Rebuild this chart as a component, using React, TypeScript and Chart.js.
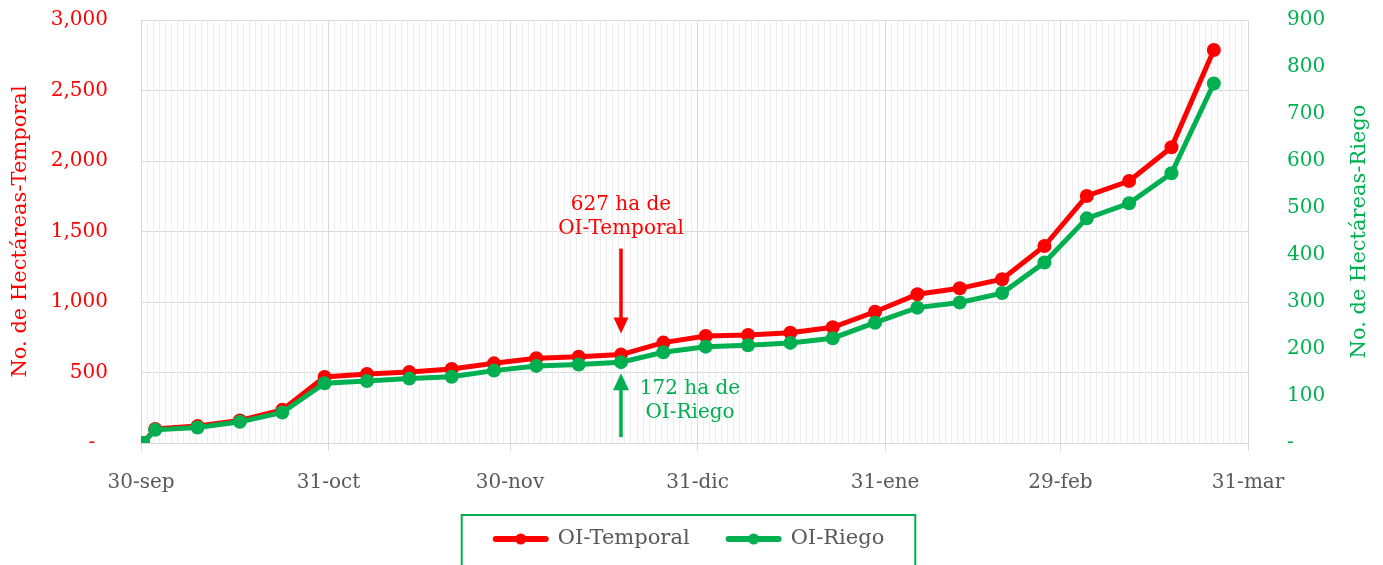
import React, { useEffect, useRef } from 'react';
import { Chart, registerables } from 'chart.js';

Chart.register(...registerables);

// ---- Data ----
const fechas: string[] = [
  '2023-09-30', '2023-10-02', '2023-10-09', '2023-10-16', '2023-10-23', '2023-10-30',
  '2023-11-06', '2023-11-13', '2023-11-20', '2023-11-27', '2023-12-04', '2023-12-11',
  '2023-12-18', '2023-12-25', '2024-01-01', '2024-01-08', '2024-01-15', '2024-01-22',
  '2024-01-29', '2024-02-05', '2024-02-12', '2024-02-19', '2024-02-26', '2024-03-04',
  '2024-03-11', '2024-03-18', '2024-03-25',
];
const temporal: number[] = [
  0, 100, 120, 160, 235, 468, 489, 503, 525, 565, 601, 612,
  627, 712, 759, 766, 782, 821, 931, 1055, 1097, 1161, 1397, 1752,
  1858, 2097, 2787,
];
const riego: number[] = [
  0, 28, 33, 45, 65, 127, 132, 137, 141, 154, 164, 167,
  172, 193, 205, 208, 213, 223, 256, 288, 299, 319, 384, 478,
  510, 574, 765,
];
const etiquetasMes: string[] = ['30-sep', '31-oct', '30-nov', '31-dic', '31-ene', '29-feb', '31-mar'];
const fechasMes: string[] = ['2023-09-30', '2023-10-31', '2023-11-30', '2023-12-31', '2024-01-31', '2024-02-29', '2024-03-31'];
const nombresSeries: string[] = ['OI-Temporal', 'OI-Riego'];
const tituloIzq = 'No. de Hectáreas-Temporal';
const tituloDer = 'No. de Hectáreas-Riego';
const idxAnotacion = 12;

// ---- Styles ----
const ROJO = '#FF0000';
const VERDE = '#00B050';
const GRIS = '#595959';
const FONT = '"DejaVu Serif", serif';
const DIA_CENTRO = 0.35;

const ORIGEN = Date.UTC(2023, 8, 30);
function dia(f: string): number {
  const [y, m, d] = f.split('-').map(Number);
  return Math.round((Date.UTC(y, m - 1, d) - ORIGEN) / 86400000);
}
const diasMes = fechasMes.map(dia);
const diaMax = diasMes[diasMes.length - 1];

const extras = {
  id: 'extras',
  afterDraw(chart: any) {
    const ctx = chart.ctx as CanvasRenderingContext2D;
    const { x: xs, y: ys, y1: y1s } = chart.scales;
    const area = chart.chartArea;

    // Right axis title (reads bottom to top)
    ctx.save();
    ctx.fillStyle = VERDE;
    ctx.font = `21px ${FONT}`;
    ctx.textAlign = 'center';
    ctx.textBaseline = 'middle';
    ctx.translate(y1s.right - 23, (area.top + area.bottom) / 2);
    ctx.rotate(-Math.PI / 2);
    ctx.fillText(tituloDer, 0, 0);
    ctx.restore();

    // Annotations
    const px = xs.getPixelForValue(dia(fechas[idxAnotacion]) + DIA_CENTRO);
    const pyT = ys.getPixelForValue(temporal[idxAnotacion]);
    const pyR = y1s.getPixelForValue(riego[idxAnotacion]);
    ctx.save();
    ctx.font = `20px ${FONT}`;
    ctx.textAlign = 'center';
    ctx.textBaseline = 'middle';
    // red
    ctx.strokeStyle = ROJO;
    ctx.fillStyle = ROJO;
    ctx.lineWidth = 3.5;
    ctx.beginPath();
    ctx.moveTo(px, pyT - 106);
    ctx.lineTo(px, pyT - 34);
    ctx.stroke();
    ctx.beginPath();
    ctx.moveTo(px - 7.5, pyT - 37);
    ctx.lineTo(px + 7.5, pyT - 37);
    ctx.lineTo(px, pyT - 21);
    ctx.closePath();
    ctx.fill();
    ctx.fillText(`${temporal[idxAnotacion]} ha de`, px, pyT - 150);
    ctx.fillText(nombresSeries[0], px, pyT - 126);
    // green
    ctx.strokeStyle = VERDE;
    ctx.fillStyle = VERDE;
    ctx.beginPath();
    ctx.moveTo(px, pyR + 26);
    ctx.lineTo(px, pyR + 75);
    ctx.stroke();
    ctx.beginPath();
    ctx.moveTo(px - 8, pyR + 28);
    ctx.lineTo(px + 8, pyR + 28);
    ctx.lineTo(px, pyR + 11);
    ctx.closePath();
    ctx.fill();
    ctx.fillText(`${riego[idxAnotacion]} ha de`, px + 69, pyR + 27);
    ctx.fillText(nombresSeries[1], px + 69, pyR + 51);
    ctx.restore();

    // Legend
    ctx.save();
    ctx.font = `21px ${FONT}`;
    const items = chart.data.datasets.map((ds: any) => ({ text: ds.label, color: ds.borderColor }));
    const iconW = 56, gapIcon = 9, gapItems = 36;
    const widths = items.map((it: any) => iconW + gapIcon + ctx.measureText(it.text).width);
    const total = widths.reduce((a: number, b: number) => a + b, 0) + gapItems * (items.length - 1);
    const cy = chart.height - 26;
    let lx = chart.width / 2 - 3 - total / 2;
    const boxLeft = lx - 31;
    const boxRight = lx + total + 31;
    ctx.strokeStyle = VERDE;
    ctx.lineWidth = 2;
    ctx.strokeRect(boxLeft, cy - 24, boxRight - boxLeft, 60);
    items.forEach((it: any, i: number) => {
      ctx.strokeStyle = it.color;
      ctx.fillStyle = it.color;
      ctx.lineWidth = 6;
      ctx.lineCap = 'round';
      ctx.beginPath();
      ctx.moveTo(lx + 3, cy);
      ctx.lineTo(lx + iconW - 3, cy);
      ctx.stroke();
      ctx.beginPath();
      ctx.arc(lx + iconW / 2, cy, 5.5, 0, Math.PI * 2);
      ctx.fill();
      ctx.fillStyle = GRIS;
      ctx.textAlign = 'left';
      ctx.textBaseline = 'middle';
      ctx.fillText(it.text, lx + iconW + gapIcon, cy);
      lx += widths[i] + gapItems;
    });
    ctx.restore();
  },
};

export default function App() {
  const ref = useRef<HTMLCanvasElement | null>(null);

  useEffect(() => {
    document.body.style.margin = '0';
    const canvas = ref.current;
    if (!canvas) return;
    Chart.defaults.font.family = FONT;
    const mkData = (vals: number[]) => fechas.map((f, i) => ({ x: dia(f) + DIA_CENTRO, y: vals[i] }));
    const isMajor = (v: number) => diasMes.includes(v);
    const chart = new Chart(canvas, {
      type: 'line',
      data: {
        datasets: [
          {
            label: nombresSeries[0],
            data: mkData(temporal),
            yAxisID: 'y',
            borderColor: ROJO,
            backgroundColor: ROJO,
            pointBackgroundColor: ROJO,
            borderWidth: 5,
            pointRadius: 7,
            pointBorderWidth: 0,
            tension: 0,
            order: 2,
          },
          {
            label: nombresSeries[1],
            data: mkData(riego),
            yAxisID: 'y1',
            borderColor: VERDE,
            backgroundColor: VERDE,
            pointBackgroundColor: VERDE,
            borderWidth: 5,
            pointRadius: 7,
            pointBorderWidth: 0,
            tension: 0,
            order: 1,
          },
        ],
      },
      options: {
        animation: false,
        responsive: false,
        maintainAspectRatio: false,
        layout: { padding: { top: 20, right: 0, bottom: 73, left: 0 } },
        plugins: { legend: { display: false }, tooltip: { enabled: false } },
        scales: {
          y: {
            position: 'left',
            min: 0,
            max: 3000,
            ticks: {
              stepSize: 500,
              color: ROJO,
              font: { family: FONT, size: 20 },
              padding: 33,
              callback: (v: any) => (v === 0 ? '-  ' : Number(v).toLocaleString('en-US')),
            },
            grid: { color: '#d9d9d9', drawTicks: false, lineWidth: 1 },
            border: { display: false },
            title: {
              display: true,
              text: tituloIzq,
              color: ROJO,
              font: { family: FONT, size: 21 },
              padding: { top: 8, bottom: 0 },
            },
            afterFit: (s: any) => { s.width = 141; s.paddingTop = 0; s.paddingBottom = 0; },
          },
          y1: {
            position: 'right',
            min: 0,
            max: 900,
            ticks: {
              stepSize: 100,
              color: VERDE,
              font: { family: FONT, size: 20 },
              padding: 39,
              callback: (v: any) => (v === 0 ? '-' : Number(v).toLocaleString('en-US')),
            },
            grid: { display: false, drawTicks: false },
            border: { display: false },
            afterFit: (s: any) => { s.width = 135; s.paddingTop = 0; s.paddingBottom = 0; },
          },
          x: {
            type: 'linear',
            min: 0,
            max: diaMax,
            afterBuildTicks: (s: any) => {
              s.ticks = Array.from({ length: diaMax + 1 }, (_, i) => ({ value: i }));
            },
            ticks: {
              autoSkip: false,
              maxRotation: 0,
              minRotation: 0,
              color: GRIS,
              font: { family: FONT, size: 20 },
              padding: 20,
              callback: (v: any) => {
                const k = diasMes.indexOf(Number(v));
                return k >= 0 ? etiquetasMes[k] : '';
              },
            },
            grid: {
              color: (c: any) => (c.tick && isMajor(c.tick.value) ? '#d9d9d9' : '#eeeeee'),
              tickColor: (c: any) => (c.tick && isMajor(c.tick.value) ? '#d9d9d9' : 'rgba(0,0,0,0)'),
              tickLength: 8,
            },
            border: { color: '#d9d9d9' },
            afterFit: (s: any) => { s.height = 49; s.paddingLeft = 0; s.paddingRight = 0; },
          },
        },
      },
      plugins: [extras],
    } as any);
    return () => chart.destroy();
  }, []);

  return (
    <div style={{ width: 1383, height: 565 }}>
      <canvas ref={ref} width={1383} height={565} style={{ display: 'block' }} />
    </div>
  );
}
